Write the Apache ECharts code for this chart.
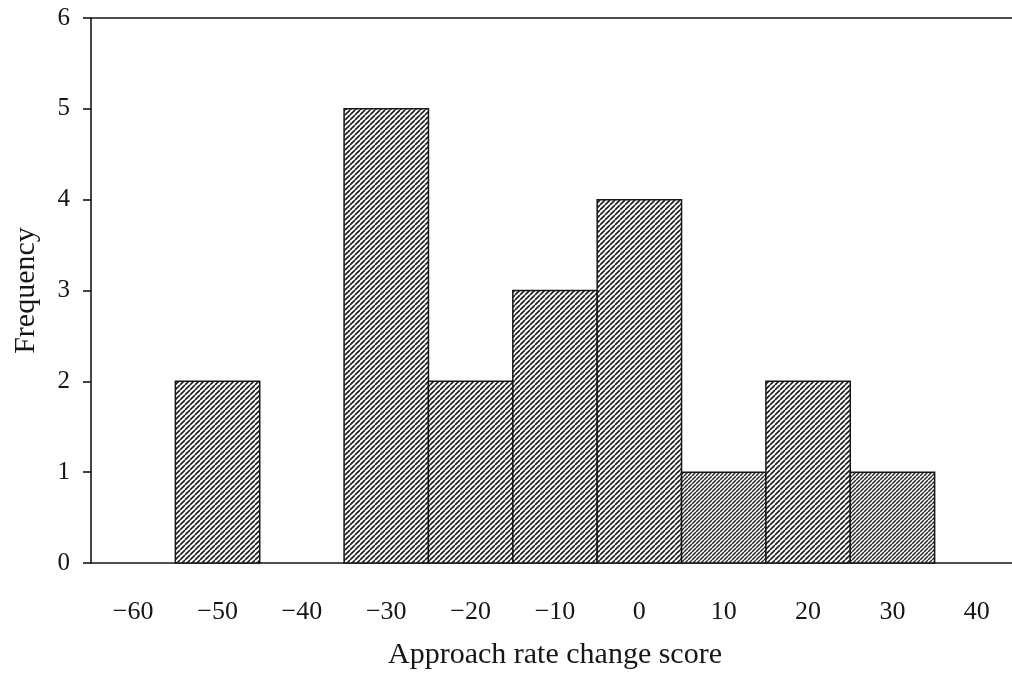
<!DOCTYPE html>
<html>
<head>
<meta charset="utf-8">
<script src="https://cdn.jsdelivr.net/npm/echarts@6/dist/echarts.min.js"></script>
<style>
  html, body { margin: 0; padding: 0; background: #fff; }
  #chart { width: 1012px; height: 673px; }
</style>
</head>
<body>
<div id="chart"></div>
<script>
// Histogram of approach rate change scores (bins of width 10)
const binCenters = [-50, -30, -20, -10, 0, 10, 20, 30];
const frequencies = [2, 5, 2, 3, 4, 1, 2, 1];
const binWidth = 10;
const xTickValues = [-60, -50, -40, -30, -20, -10, 0, 10, 20, 30, 40];
const yTickValues = [0, 1, 2, 3, 4, 5, 6];

const SERIF = '"Liberation Serif", "DejaVu Serif", serif';
const INK = '#161616';

// Diagonal hatch tile for the bar fill
function makeHatch(size, lineWidth, color) {
  const c = document.createElement('canvas');
  c.width = size; c.height = size;
  const g = c.getContext('2d');
  g.fillStyle = '#fff';
  g.fillRect(0, 0, size, size);
  g.strokeStyle = color;
  g.lineWidth = lineWidth;
  g.beginPath();
  for (let k = -1; k <= 1; k++) {
    g.moveTo(k * size, size);
    g.lineTo(k * size + size, 0);
  }
  g.stroke();
  return { image: c, repeat: 'repeat' };
}
const hatch = makeHatch(5, 1.6, '#1e1e1e');
const hatchDense = makeHatch(4, 1.5, '#2a2a2a');

const histData = binCenters.map((c, i) => [c - binWidth / 2, c + binWidth / 2, frequencies[i]]);

const chart = echarts.init(document.getElementById('chart'), null, { renderer: 'canvas' });
chart.setOption({
  backgroundColor: '#fff',
  animation: false,
  grid: { left: 91, top: 18, width: 928, bottom: 110, containLabel: false, outerBoundsMode: 'none' },
  xAxis: [{
    type: 'value',
    min: -65,
    max: 45,
    name: 'Approach rate change score',
    nameLocation: 'middle',
    nameGap: 77,
    nameTextStyle: { fontFamily: SERIF, fontSize: 30, color: INK },
    axisLine: { show: true, onZero: false, lineStyle: { color: INK, width: 1.6 } },
    axisTick: { show: false },
    splitLine: { show: false },
    axisLabel: {
      customValues: xTickValues,
      margin: 36,
      fontFamily: SERIF,
      fontSize: 26,
      color: INK,
      formatter: v => String(v).replace('-', '\u2212')
    }
  }, {
    type: 'value',
    position: 'top',
    min: -65,
    max: 45,
    axisLine: { show: true, onZero: false, lineStyle: { color: INK, width: 1.6 } },
    axisTick: { show: false },
    axisLabel: { show: false },
    splitLine: { show: false }
  }],
  yAxis: {
    type: 'value',
    min: 0,
    max: 6,
    interval: 1,
    name: 'Frequency',
    nameLocation: 'middle',
    nameGap: 50,
    nameRotate: 90,
    nameTextStyle: { fontFamily: SERIF, fontSize: 30, color: INK },
    axisLine: { show: true, onZero: false, lineStyle: { color: INK, width: 1.6 } },
    axisTick: { show: true, length: 8, inside: false, lineStyle: { color: INK, width: 1.6 } },
    splitLine: { show: false },
    axisLabel: {
      customValues: yTickValues,
      margin: 21,
      fontFamily: SERIF,
      fontSize: 25,
      color: INK
    }
  },
  series: [{
    type: 'custom',
    xAxisIndex: 0,
    data: histData,
    encode: { x: [0, 1], y: 2 },
    renderItem(params, api) {
      const x0 = api.value(0), x1 = api.value(1), f = api.value(2);
      const pTop = api.coord([x0, f]);
      const pBot = api.coord([x1, 0]);
      const center = (x0 + x1) / 2;
      const dense = center === 10 || center === 30;
      return {
        type: 'rect',
        shape: { x: pTop[0], y: pTop[1], width: pBot[0] - pTop[0], height: pBot[1] - pTop[1] },
        style: { fill: dense ? hatchDense : hatch, stroke: INK, lineWidth: 1.5 }
      };
    }
  }]
});
</script>
</body>
</html>
